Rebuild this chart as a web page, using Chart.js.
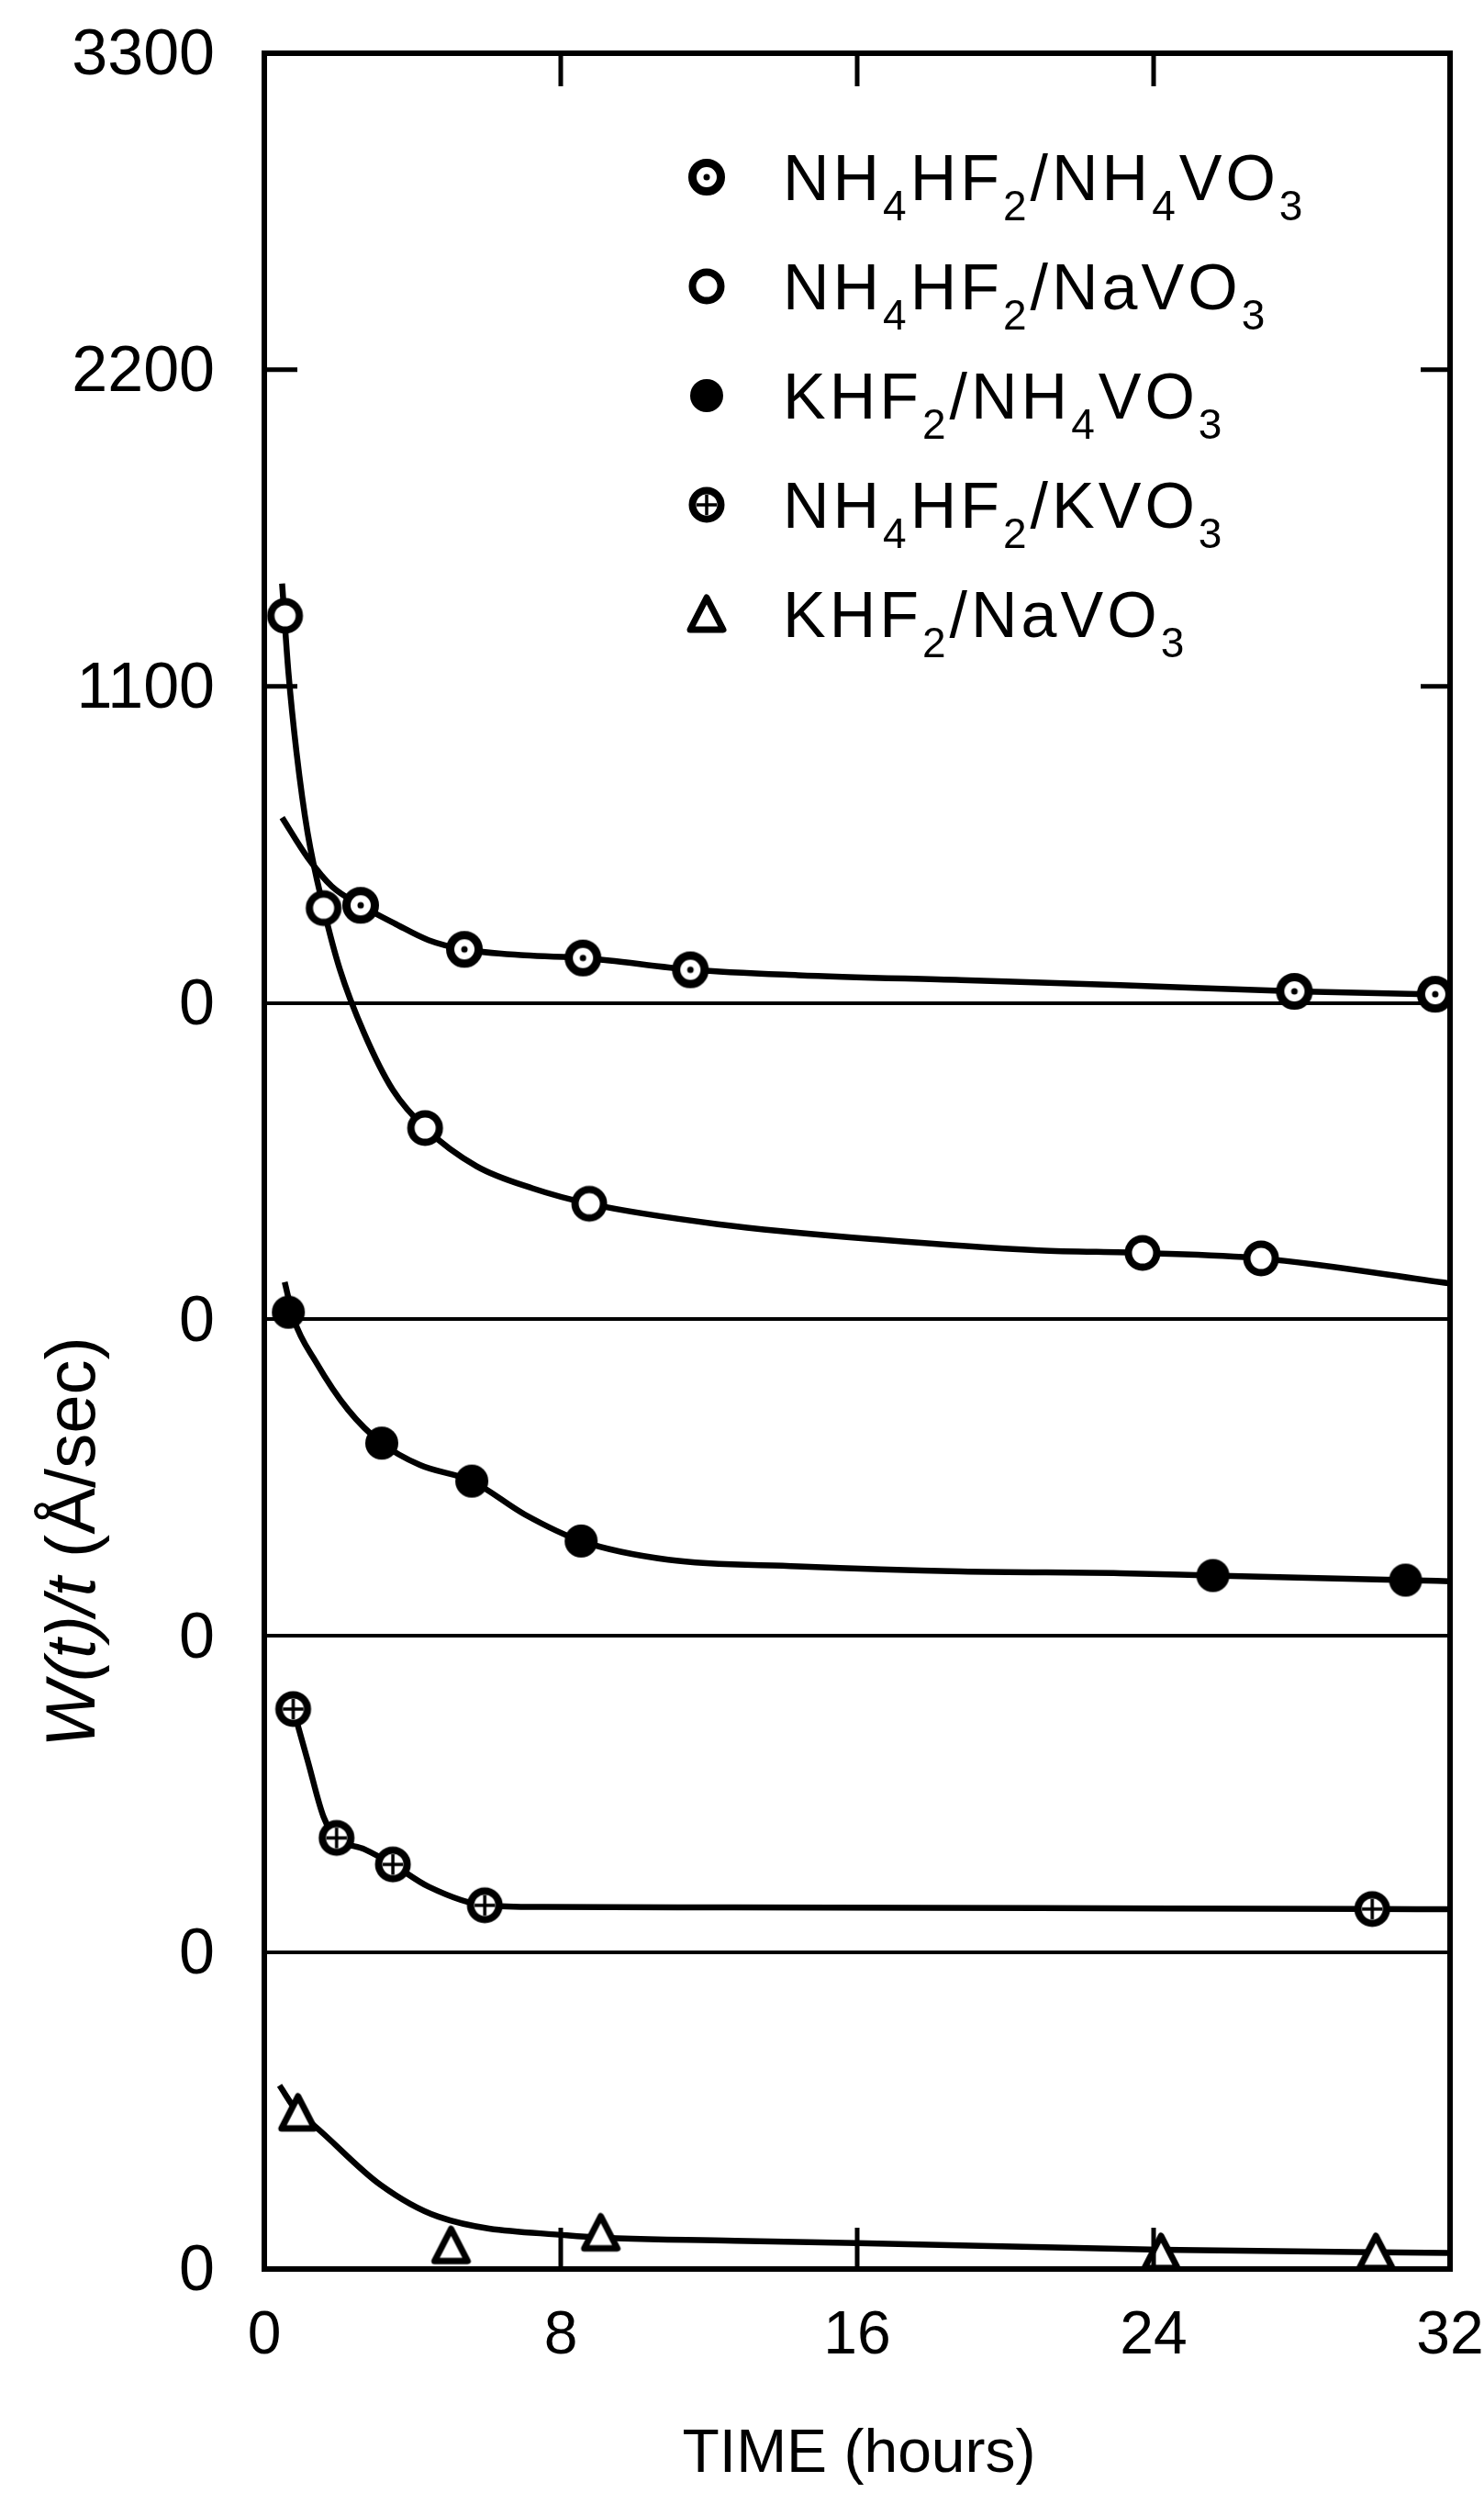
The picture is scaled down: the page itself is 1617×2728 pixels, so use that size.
<!DOCTYPE html>
<html>
<head>
<meta charset="utf-8">
<script src="https://cdn.jsdelivr.net/npm/chart.js@4.4.1/dist/chart.umd.min.js"></script>
<style>
  html, body { margin: 0; padding: 0; background: #fff; }
  canvas { display: block; }
</style>
</head>
<body>
<canvas id="chart" width="1617" height="2728"></canvas>
<script>
// every digit in these names is drawn as a subscript
const seriesNames = ['NH4HF2/NH4VO3', 'NH4HF2/NaVO3', 'KHF2/NH4VO3', 'NH4HF2/KVO3', 'KHF2/NaVO3'];
const markerKinds = ['dotCircle', 'circle', 'disc', 'plusCircle', 'triangle'];
// each curve sits on its own zero line, 1100 below the one above
const panelOffsets = [0, -1100, -2200, -3300, -4400];

const yTickLabels = ['0', '0', '0', '0', '0', '1100', '2200', '3300'];
const xTickLabels = ['0', '8', '16', '24', '32'];

// measured points (hours, W(t)/t in A/sec above the panel's zero)
const hoursA = [2.6, 5.4, 8.6, 11.5, 27.8, 31.6];
const rateA = [339, 186, 156, 115, 40, 30];
const hoursB = [0.56, 1.6, 4.34, 8.77, 23.7, 26.9];
const rateB = [2445, 1429, 665, 402, 231, 212];
const hoursC = [0.65, 3.17, 5.6, 8.55, 25.6, 30.8];
const rateC = [1125, 670, 538, 330, 210, 194];
const hoursD = [0.78, 1.95, 3.47, 5.95, 29.9];
const rateD = [846, 398, 306, 164, 151];
const hoursE = [0.91, 5.04, 9.08, 24.2, 30.0];
const rateE = [543, 82, 126, 58, 58];

// hand drawn fit curves
const curveHoursA = [0.48, 1.17, 1.82, 2.6, 3.56, 4.43, 5.38, 7.03, 8.64, 11.55, 14.4, 18.8, 23.1, 27.8, 32];
const curveRateA = [644, 505, 405, 339, 273, 218, 186, 165, 156, 115, 96, 79, 62, 40, 28];
const curveHoursB = [0.48, 0.65, 0.87, 1.17, 1.6, 2.04, 2.7, 3.47, 4.34, 5.73, 7.25, 8.77, 12.24, 16.6, 20.9, 23.7, 26.9, 32];
const curveRateB = [2557, 2250, 1970, 1690, 1429, 1216, 993, 797, 665, 532, 455, 402, 331, 277, 240, 231, 212, 125];
const curveHoursC = [0.55, 0.8, 1.39, 2.26, 3.17, 4.2, 5.6, 7.03, 8.55, 10.9, 14.4, 18.8, 23.1, 25.6, 30.8, 32];
const curveRateC = [1230, 1100, 953, 786, 670, 594, 538, 422, 330, 265, 242, 224, 218, 210, 194, 190];
const curveHoursD = [0.78, 1.17, 1.6, 1.95, 2.7, 3.47, 4.43, 5.95, 7.5, 12.7, 20.9, 29.9, 32];
const curveRateD = [846, 667, 471, 398, 359, 306, 229, 164, 158, 157, 154, 151, 150];
const curveHoursE = [0.41, 0.91, 1.35, 3.13, 4.69, 8.16, 12.7, 16, 24.2, 32];
const curveRateE = [638, 543, 498, 293, 182, 117, 98, 90, 67, 56];

const pointHours = [hoursA, hoursB, hoursC, hoursD, hoursE];
const pointRates = [rateA, rateB, rateC, rateD, rateE];
const curveHours = [curveHoursA, curveHoursB, curveHoursC, curveHoursD, curveHoursE];
const curveRates = [curveRateA, curveRateB, curveRateC, curveRateD, curveRateE];

const fontFamily = '"Liberation Sans", Arial, Helvetica, sans-serif';

function markerCanvas(kind) {
  const size = 48;
  const c = document.createElement('canvas');
  c.width = size;
  c.height = size;
  const g = c.getContext('2d');
  const m = size / 2;
  g.strokeStyle = '#000';
  g.fillStyle = '#fff';
  if (kind === 'triangle') {
    g.lineWidth = 7;
    g.lineJoin = 'round';
    g.beginPath();
    g.moveTo(m, 6);
    g.lineTo(size - 6, size - 7);
    g.lineTo(6, size - 7);
    g.closePath();
    g.fill();
    g.stroke();
    return c;
  }
  if (kind === 'disc') {
    g.beginPath();
    g.arc(m, m, 18, 0, Math.PI * 2);
    g.fillStyle = '#000';
    g.fill();
    return c;
  }
  g.lineWidth = kind === 'dotCircle' ? 9 : 8;
  g.beginPath();
  g.arc(m, m, 15.5, 0, Math.PI * 2);
  g.fill();
  g.stroke();
  if (kind === 'dotCircle') {
    g.beginPath();
    g.arc(m, m, 3.5, 0, Math.PI * 2);
    g.fillStyle = '#000';
    g.fill();
  }
  if (kind === 'plusCircle') {
    g.lineWidth = 3.5;
    g.beginPath();
    g.moveTo(m - 11, m); g.lineTo(m + 11, m);
    g.moveTo(m, m - 11); g.lineTo(m, m + 11);
    g.stroke();
  }
  return c;
}

const markers = markerKinds.map(markerCanvas);

const datasets = [];
seriesNames.forEach((name, i) => {
  datasets.push({
    label: name,
    data: pointHours[i].map((h, k) => ({ x: h, y: panelOffsets[i] + pointRates[i][k] })),
    showLine: false,
    pointStyle: markers[i],
    pointRadius: 20,
    order: 0
  });
  datasets.push({
    label: name + ' fit',
    data: curveHours[i].map((h, k) => ({ x: h, y: panelOffsets[i] + curveRates[i][k] })),
    showLine: true,
    pointRadius: 0,
    borderColor: '#000',
    borderWidth: 6.5,
    cubicInterpolationMode: 'monotone',
    order: 1
  });
});

function drawFormula(ctx, text, x, yCenter, size, spacing) {
  const capHalf = size * 0.358;
  let cx = x;
  for (const ch of text) {
    const isSub = ch >= '0' && ch <= '9';
    ctx.font = (isSub ? Math.round(size * 0.66) : size) + 'px ' + fontFamily;
    ctx.fillText(ch, cx, yCenter + capHalf + (isSub ? size * 0.32 : 0));
    cx += ctx.measureText(ch).width + spacing;
  }
}

const framePlugin = {
  id: 'frame',
  afterDraw(chart) {
    const { ctx, chartArea: a, scales } = chart;
    ctx.save();
    ctx.strokeStyle = '#000';
    ctx.fillStyle = '#000';
    ctx.lineWidth = 6;
    ctx.strokeRect(a.left, a.top, a.right - a.left, a.bottom - a.top);

    // inward ticks on all four sides
    ctx.lineWidth = 5;
    ctx.beginPath();
    scales.x.ticks.forEach(t => {
      if (t.value <= scales.x.min || t.value >= scales.x.max) return;
      const px = scales.x.getPixelForValue(t.value);
      ctx.moveTo(px, a.top); ctx.lineTo(px, a.top + 36);
      ctx.moveTo(px, a.bottom); ctx.lineTo(px, a.bottom - 45);
    });
    scales.y.ticks.forEach(t => {
      if (t.value <= 0 || t.value >= scales.y.max) return;
      const py = scales.y.getPixelForValue(t.value);
      ctx.moveTo(a.left, py); ctx.lineTo(a.left + 36, py);
      ctx.moveTo(a.right, py); ctx.lineTo(a.right - 32, py);
    });
    ctx.stroke();

    // tick labels
    ctx.textBaseline = 'middle';
    ctx.textAlign = 'center';
    ctx.font = '66px ' + fontFamily;
    scales.x.ticks.forEach((t, i) => {
      ctx.fillText(xTickLabels[i], scales.x.getPixelForValue(t.value), a.bottom + 74);
    });
    ctx.textAlign = 'right';
    ctx.font = '70px ' + fontFamily;
    scales.y.ticks.forEach((t, i) => {
      ctx.fillText(yTickLabels[i], a.left - 54, scales.y.getPixelForValue(t.value) + 4);
    });

    // legend
    ctx.textAlign = 'left';
    ctx.textBaseline = 'alphabetic';
    seriesNames.forEach((name, i) => {
      const y = a.top + 135 + i * 119;
      ctx.drawImage(markers[i], a.left + 482 - 24, y - 24);
      drawFormula(ctx, name, a.left + 565, y, 70, 4);
    });

    // axis titles
    ctx.font = '66px ' + fontFamily;
    ctx.textAlign = 'center';
    ctx.textBaseline = 'middle';
    ctx.fillText('TIME (hours)', (a.left + a.right) / 2 + 2, a.bottom + 203);

    ctx.translate(a.left - 206, a.top + 1622);
    ctx.rotate(-Math.PI / 2);
    const parts = [['W(', 'italic '], ['t', 'italic '], [')/', 'italic '], ['t', 'italic '], [' (Å/sec)', '']];
    const titleFont = '76px ' + fontFamily;
    let total = 0;
    parts.forEach(p => { ctx.font = p[1] + titleFont; total += ctx.measureText(p[0]).width; });
    let cx = -total / 2;
    ctx.textAlign = 'left';
    parts.forEach(p => {
      ctx.font = p[1] + titleFont;
      ctx.fillText(p[0], cx, 0);
      cx += ctx.measureText(p[0]).width;
    });
    ctx.restore();
  }
};

const zeroLines = panelOffsets.slice(0, 4);

new Chart(document.getElementById('chart'), {
  type: 'scatter',
  data: { datasets },
  options: {
    responsive: false,
    animation: false,
    events: [],
    layout: { autoPadding: false, padding: { left: 0, right: 37, top: 58, bottom: 0 } },
    plugins: { legend: { display: false }, tooltip: { enabled: false } },
    scales: {
      x: {
        type: 'linear',
        min: 0,
        max: 32,
        afterFit(scale) { scale.height = 256; },
        grid: { display: false, drawTicks: false },
        border: { display: false },
        ticks: { stepSize: 8, display: false }
      },
      y: {
        type: 'linear',
        min: -4400,
        max: 3300,
        afterFit(scale) { scale.width = 288; },
        grid: {
          drawTicks: false,
          lineWidth: 4,
          color: c => zeroLines.includes(c.tick.value) ? '#000' : 'rgba(0,0,0,0)'
        },
        border: { display: false },
        ticks: { stepSize: 1100, display: false }
      }
    }
  },
  plugins: [framePlugin]
});
</script>
</body>
</html>
